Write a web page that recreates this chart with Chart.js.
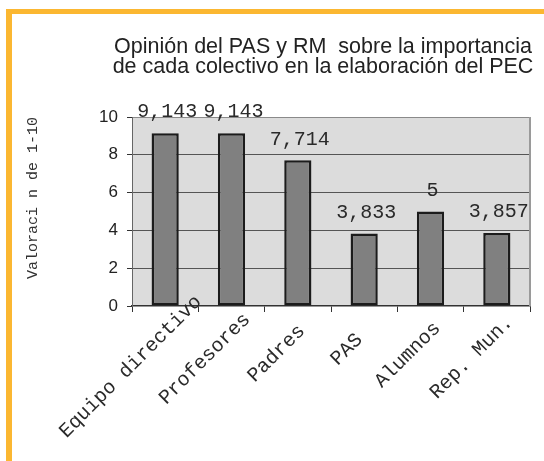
<!DOCTYPE html>
<html>
<head>
<meta charset="utf-8">
<script src="https://cdn.jsdelivr.net/npm/chart.js@4/dist/chart.umd.min.js"></script>
<style>
    body { margin: 0; background: #fff; overflow: hidden; width: 544px; height: 461px; }
    #frame {
        position: absolute; left: 6px; top: 9px; width: 700px; height: 600px;
        border-left: 6px solid #FBB731; border-top: 5px solid #FBB731;
    }
    #wrap { position: absolute; left: 0; top: 0; width: 646px; height: 461px; }
</style>
</head>
<body>
<div id="frame"></div>
<div id="wrap"><canvas id="myChart"></canvas></div>
<script>
'use strict';

// data
const categories = ['Equipo directivo', 'Profesores', 'Padres', 'PAS', 'Alumnos', 'Rep. Mun.'];
const valores = [9.143, 9.143, 7.714, 3.833, 5, 3.857];
const yTicks = [0, 2, 4, 6, 8, 10];
const titleLines = ['Opinión del PAS y RM  sobre la importancia', 'de cada colectivo en la elaboración del PEC'];
const yTitle = 'Valoraci n de 1-10';

const W = 646; // canvas is wider than the window, title gets cut like the original
const mono = 'Liberation Mono';
const sans = 'Liberation Sans';

const fmt = v => v.toString().replace('.', ',');

// grey plot area + frame
const plotBg = {
    id: 'plotBg',
    beforeDraw(chart) {
        const { ctx, chartArea: a } = chart;
        ctx.save();
        ctx.fillStyle = '#DCDCDC';
        ctx.fillRect(a.left, a.top, a.right - a.left, a.bottom - a.top);
        ctx.restore();
    },
    afterDraw(chart) {
        const { ctx, chartArea: a } = chart;
        ctx.save();
        ctx.strokeStyle = '#9a9a9a';
        ctx.lineWidth = 2;
        ctx.beginPath();
        ctx.moveTo(a.right, a.top);
        ctx.lineTo(a.right, a.bottom);
        ctx.stroke();
        ctx.restore();
    }
};

// values over the bars, like excel
const barLabels = {
    id: 'barLabels',
    afterDatasetsDraw(chart) {
        const ctx = chart.ctx;
        const meta = chart.getDatasetMeta(0);
        ctx.save();
        ctx.font = '20px "' + mono + '"';
        ctx.fillStyle = '#2a2a2a';
        ctx.textAlign = 'center';
        ctx.textBaseline = 'middle';
        meta.data.forEach((bar, i) => {
            ctx.fillText(fmt(valores[i]), bar.x + 2, bar.y - 21);
        });
        ctx.restore();
    }
};

// rotated category names, anchored the way excel does it
const xLabels = {
    id: 'xLabels',
    afterDraw(chart) {
        const ctx = chart.ctx;
        const x = chart.scales.x;
        const y0 = chart.chartArea.bottom;
        const c = Math.SQRT1_2;
        ctx.save();
        ctx.font = '20px "' + mono + '"';
        ctx.fillStyle = '#2a2a2a';
        ctx.textAlign = 'right';
        ctx.textBaseline = 'top';
        categories.forEach((lab, i) => {
            const cx = x.getPixelForValue(i);
            const w = ctx.measureText(lab).width;
            const along = 0.344 * w - 37.5;
            const perp = 8.5;
            const ex = cx + (along + perp) * c;
            const ey = y0 + (perp - along) * c;
            ctx.save();
            ctx.translate(ex, ey);
            ctx.rotate(-Math.PI / 4);
            ctx.fillText(lab, 0, 0);
            ctx.restore();
        });
        ctx.restore();
    }
};

const ctx = document.getElementById('myChart');
const myChart = new Chart(ctx, {
    type: 'bar',
    data: {
        labels: categories,
        datasets: [{
            data: valores,
            backgroundColor: '#808080',
            borderColor: '#1c1c1c',
            borderWidth: 2.5,
            borderSkipped: false,
            barPercentage: 0.41,
            categoryPercentage: 1
        }]
    },
    options: {
        responsive: true,
        maintainAspectRatio: false,
        animation: false,
        devicePixelRatio: 1,
        layout: { padding: 0 },
        plugins: {
            legend: { display: false },
            tooltip: { enabled: false },
            title: {
                display: true,
                text: titleLines,
                color: '#222',
                font: { family: sans, size: 21.5, weight: 'normal', lineHeight: 20 / 21.5 },
                padding: { top: 37.5, bottom: 39.5 }
            }
        },
        scales: {
            x: {
                grid: {
                    offset: true,
                    drawOnChartArea: false,
                    tickLength: 6,
                    tickColor: '#333'
                },
                border: { color: '#333', width: 1.5 },
                ticks: { display: false },
                afterFit: s => { s.height = 155; }
            },
            y: {
                min: 0,
                max: 10,
                ticks: {
                    stepSize: 1,
                    padding: 9,
                    color: '#222',
                    font: { family: sans, size: 17 },
                    callback: v => yTicks.includes(v) ? v : ''
                },
                grid: {
                    tickLength: 5,
                    tickColor: '#333',
                    color: c => {
                        const v = c.tick.value;
                        if (v === 10) return '#8a8a8a';
                        return (v % 2 === 0 && v > 0) ? '#555' : 'rgba(0,0,0,0)';
                    }
                },
                border: { color: '#666', width: 1 },
                title: {
                    display: true,
                    text: yTitle,
                    align: 'end',
                    color: '#333',
                    font: { family: mono, size: 15, lineHeight: 1.2 },
                    padding: { top: 24, bottom: 0 }
                },
                afterFit: s => { s.width = 132; }
            },
            // empty box on the right so the title centres like the original
            yPad: {
                type: 'linear',
                position: 'right',
                grid: { display: false },
                ticks: { display: false },
                border: { display: false },
                afterFit: s => { s.width = W - 530; }
            }
        }
    },
    plugins: [plotBg, barLabels, xLabels]
});
</script>
</body>
</html>
